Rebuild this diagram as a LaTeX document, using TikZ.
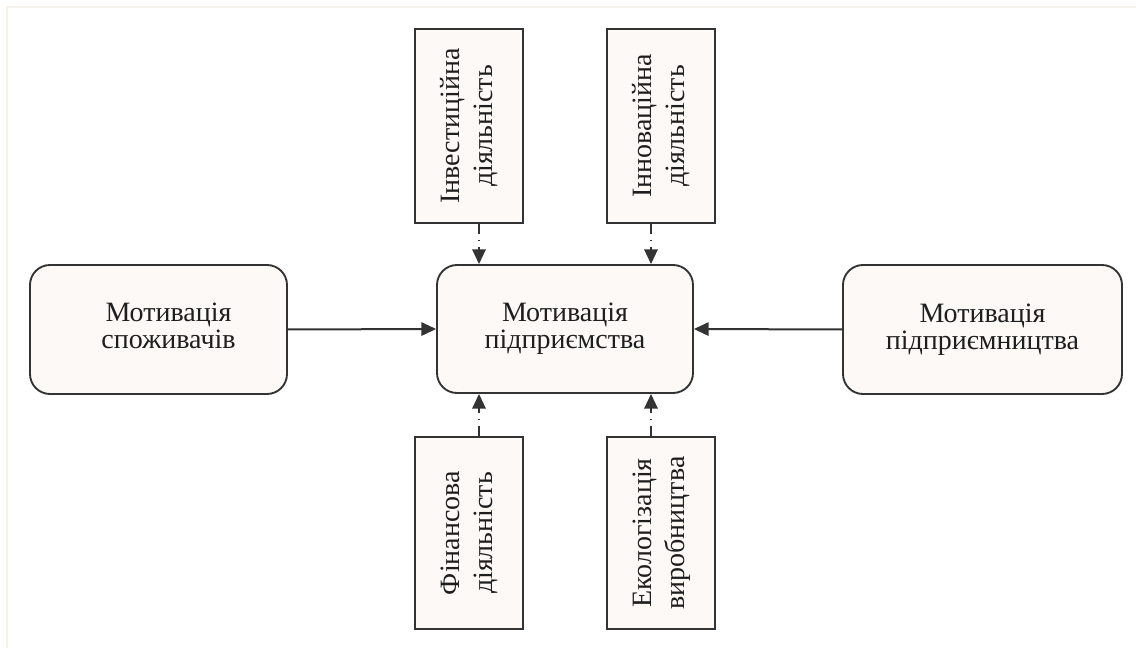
\documentclass[tikz,border=0pt]{standalone}
\usepackage{fontspec}
\setmainfont{Liberation Serif}
\usetikzlibrary{arrows.meta,calc}
\definecolor{boxfill}{HTML}{FCF9F6}
\definecolor{boxline}{HTML}{333333}
\definecolor{txt}{HTML}{1E1E1E}
\definecolor{faint}{HTML}{F6F2EE}
\def\PX{0.75pt}
\tikzset{
  lbl/.style={font=\fontsize{21}{20.25}\selectfont, text=txt, align=center, inner sep=0pt},
  rbox/.style={lbl, draw=boxline, fill=boxfill, line width=1.4pt, rounded corners=15pt},
  vbox/.style={lbl, draw=boxline, fill=boxfill, line width=1.4pt, minimum width=108*\PX, minimum height=194*\PX},
  solidarr/.style={draw=boxline, line width=1.5pt, -{Triangle[length=11pt,width=10pt]}},
  ddarr/.style={draw=boxline, line width=1.5pt, dash pattern=on 7.5pt off 4.5pt on 0.8pt off 4.5pt, -{Triangle[length=11pt,width=10pt]}}
}
\newcommand{\vtext}[2]{\rotatebox{90}{\renewcommand{\arraystretch}{1.22}\begin{tabular}{@{}c@{}}#1\\#2\end{tabular}}}
\begin{document}
\begin{tikzpicture}[x=0.75pt,y=-0.75pt]
\useasboundingbox (0,0) rectangle (1136,648);
\fill[white] (0,0) rectangle (1136,648);
\draw[faint, line width=1pt] (7,648) -- (7,7) -- (1136,7);
\renewcommand{\arraystretch}{0.96}
% main boxes
\node[rbox, minimum width=256*\PX, minimum height=128*\PX] (c) at (565,329) {Мотивація\\підприємства};
\node[rbox, minimum width=257*\PX, minimum height=129*\PX] (l) at (158.5,329.5) {\hspace*{15pt}\begin{tabular}{@{}c@{}}Мотивація\\споживачів\end{tabular}};
\node[rbox, minimum width=279*\PX, minimum height=129*\PX] (r) at (982.5,329.5) {Мотивація\\підприємництва};
% vertical boxes
\node[vbox] (t1) at (469,126) {\vtext{Інвестиційна}{діяльність}};
\node[vbox] (t2) at (661,126) {\vtext{Інноваційна}{діяльність}};
\node[vbox, minimum height=192*\PX] (b1) at (469,533) {\vtext{Фінансова}{діяльність}};
\node[vbox, minimum height=192*\PX] (b2) at (661,533) {\vtext{Екологізація}{виробництва}};
% arrow columns
\coordinate (ax1) at (479,0);
\coordinate (ax2) at (651,0);
% connectors
\draw[solidarr] (l.east) -- (c.west);
\draw[solidarr] (r.west) -- (c.east);
\draw[ddarr] (t1.south -| ax1) -- (c.north -| ax1);
\draw[ddarr] (t2.south -| ax2) -- (c.north -| ax2);
\draw[ddarr] (b1.north -| ax1) -- (c.south -| ax1);
\draw[ddarr] (b2.north -| ax2) -- (c.south -| ax2);
\end{tikzpicture}
\end{document}
